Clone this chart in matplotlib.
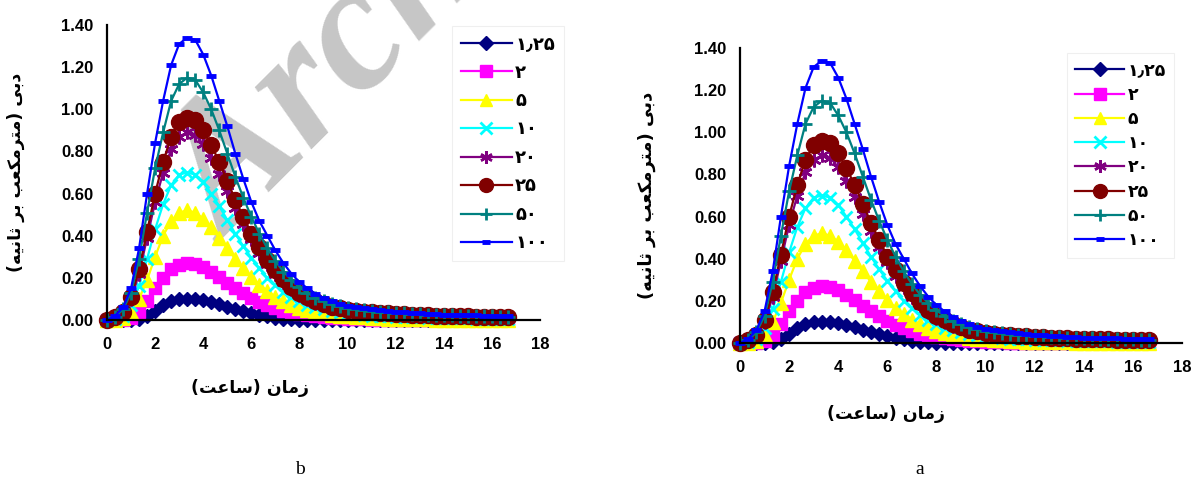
import matplotlib
matplotlib.use("Agg")
import matplotlib.pyplot as plt

# ---------------- data ----------------
TIME_MIN = [0, 20, 40, 60, 80, 100, 120, 140, 160, 180, 200, 220, 240, 260, 280,
            300, 320, 340, 360, 380, 400, 420, 440, 460, 480, 500, 520, 540, 560,
            580, 600, 620, 640, 660, 680, 700, 720, 740, 760, 780, 800, 820, 840,
            860, 880, 900, 920, 940, 960, 980, 1000]

q_125 = [0, 0, 0, 0, 0.005, 0.02, 0.045, 0.07, 0.088, 0.098,
         0.10, 0.099, 0.093, 0.085, 0.075, 0.064, 0.053, 0.042, 0.032, 0.024,
         0.017, 0.011, 0.007, 0.004, 0.002, 0.001, 0, 0, 0, 0,
         0, 0, 0, 0, 0, 0, 0, 0, 0, 0,
         0, 0, 0, 0, 0, 0, 0, 0, 0, 0, 0]
q_2 = [0, 0, 0, 0.01, 0.04, 0.09, 0.15, 0.20, 0.24, 0.262,
       0.27, 0.265, 0.25, 0.228, 0.203, 0.177, 0.151, 0.127, 0.105, 0.086,
       0.07, 0.056, 0.045, 0.036, 0.028, 0.022, 0.017, 0.013, 0.010, 0.008,
       0.006, 0.004, 0.003, 0.002, 0.001, 0.001, 0, 0, 0, 0,
       0, 0, 0, 0, 0, 0, 0, 0, 0, 0, 0]
q_5 = [0, 0, 0.01, 0.04, 0.10, 0.19, 0.30, 0.40, 0.47, 0.51,
       0.52, 0.51, 0.48, 0.44, 0.39, 0.34, 0.29, 0.245, 0.205, 0.168,
       0.137, 0.111, 0.09, 0.073, 0.059, 0.048, 0.039, 0.032, 0.026, 0.021,
       0.017, 0.014, 0.012, 0.010, 0.008, 0.007, 0.006, 0.005, 0.004, 0.003,
       0.003, 0.002, 0.002, 0.001, 0.001, 0.001, 0, 0, 0, 0, 0]
q_10 = [0, 0.005, 0.02, 0.07, 0.16, 0.29, 0.43, 0.55, 0.64, 0.69,
        0.70, 0.69, 0.655, 0.60, 0.54, 0.475, 0.41, 0.35, 0.295, 0.245,
        0.20, 0.164, 0.134, 0.109, 0.089, 0.073, 0.06, 0.05, 0.042, 0.036,
        0.031, 0.027, 0.024, 0.021, 0.019, 0.017, 0.015, 0.014, 0.013, 0.012,
        0.011, 0.010, 0.009, 0.009, 0.008, 0.008, 0.007, 0.007, 0.006, 0.006, 0.005]
q_20 = [0, 0.01, 0.035, 0.10, 0.22, 0.39, 0.56, 0.70, 0.81, 0.87,
        0.89, 0.88, 0.835, 0.77, 0.695, 0.61, 0.53, 0.455, 0.385, 0.32,
        0.265, 0.218, 0.179, 0.147, 0.121, 0.10, 0.083, 0.07, 0.06, 0.052,
        0.046, 0.041, 0.037, 0.034, 0.031, 0.029, 0.027, 0.025, 0.023, 0.021,
        0.020, 0.019, 0.018, 0.017, 0.016, 0.015, 0.014, 0.014, 0.013, 0.013, 0.012]
q_25 = [0, 0.012, 0.04, 0.11, 0.24, 0.42, 0.60, 0.75, 0.87, 0.94,
        0.96, 0.95, 0.90, 0.83, 0.75, 0.66, 0.57, 0.49, 0.41, 0.345,
        0.285, 0.235, 0.193, 0.158, 0.13, 0.107, 0.089, 0.075, 0.064, 0.056,
        0.049, 0.044, 0.040, 0.036, 0.033, 0.031, 0.029, 0.027, 0.025, 0.023,
        0.022, 0.021, 0.020, 0.019, 0.018, 0.017, 0.016, 0.015, 0.015, 0.014, 0.014]
q_50 = [0, 0.015, 0.05, 0.13, 0.29, 0.51, 0.72, 0.89, 1.04, 1.12,
        1.15, 1.14, 1.08, 1.00, 0.90, 0.79, 0.68, 0.58, 0.49, 0.41,
        0.34, 0.28, 0.23, 0.19, 0.155, 0.128, 0.106, 0.089, 0.076, 0.066,
        0.058, 0.052, 0.047, 0.043, 0.039, 0.036, 0.033, 0.031, 0.029, 0.027,
        0.025, 0.024, 0.023, 0.022, 0.021, 0.020, 0.019, 0.018, 0.017, 0.016, 0.016]
q_100 = [0, 0.02, 0.06, 0.15, 0.34, 0.60, 0.84, 1.04, 1.21, 1.31,
         1.34, 1.33, 1.26, 1.16, 1.04, 0.92, 0.79, 0.67, 0.56, 0.47,
         0.40, 0.33, 0.27, 0.22, 0.18, 0.15, 0.125, 0.105, 0.09, 0.078,
         0.068, 0.061, 0.055, 0.05, 0.046, 0.042, 0.039, 0.036, 0.034, 0.032,
         0.030, 0.028, 0.026, 0.025, 0.024, 0.023, 0.022, 0.021, 0.020, 0.019, 0.018]

# return-period labels (Persian digits)
LABELS = ["\u06F1\u066B\u06F2\u06F5", "\u06F2", "\u06F5", "\u06F1\u06F0",
          "\u06F2\u06F0", "\u06F2\u06F5", "\u06F5\u06F0", "\u06F1\u06F0\u06F0"]
SERIES = [q_125, q_2, q_5, q_10, q_20, q_25, q_50, q_100]

X_TICKS = [0, 2, 4, 6, 8, 10, 12, 14, 16, 18]
Y_TICKS = [0.0, 0.2, 0.4, 0.6, 0.8, 1.0, 1.2, 1.4]

# Persian axis titles (presentation forms, visual order)
XLABEL = "(" + "\uFE96\uFECB\uFE8E\uFEB3" + ")" + " " + "\uFEE5\uFE8E\uFEE3\uFEAF"
YLABEL = ("(" + "\uFEEA\uFEF4\uFEE7\uFE8E\uFE9B" + " " + "\uFEAE\uFE91" + " "
          + "\uFE90\uFECC\uFEDC\uFEE3\uFEAE\uFE98\uFEE3" + ")" + " "
          + "\uFEF0\uFE91\uFEA9")

# ---------------- styles ----------------
STYLES = [
    dict(color="#000080", marker="D", ms=7.5),
    dict(color="#FF00FF", marker="s", ms=9),
    dict(color="#FFFF00", marker="^", ms=10.5),
    dict(color="#00FFFF", marker="x", ms=9, mew=2.0),
    dict(color="#800080", marker=(6, 2, 0), ms=10, mew=1.8),
    dict(color="#800000", marker="o", ms=11.5),
    dict(color="#008080", marker="+", ms=10, mew=2.0),
    dict(color="#0000FF", marker="_", ms=7, mew=3.5),
]
LEG_MS = [7, 9, 9, 8, 9, 10, 9, 6]

time_h = [m / 60.0 for m in TIME_MIN]

TICK_FAMILY = ["Liberation Sans Narrow", "Liberation Sans"]
FA_FONT = ["DejaVu Sans"]

fig = plt.figure(figsize=(12, 4.79), dpi=100)

# watermark (behind the plots)
fig.text(0.188, 1 - 245 / 479, "Archive", rotation=45, rotation_mode="anchor",
         ha="left", va="baseline", fontsize=132, color="#c6c6c6",
         family="Liberation Serif", weight="bold", style="italic", zorder=-5)

panels = [
    dict(rect=(107 / 1200, 1 - 320 / 479, 433 / 1200, 295 / 479),
         leg=(443 / 1200, 1 - 17 / 479), lsp=0.58, lfs=13, tag="b", tagx=300 / 1200,
         ylx=-0.19, xly=-0.2, ylfs=12.5),
    dict(rect=(740 / 1200, 1 - 343 / 479, 442 / 1200, 295 / 479),
         leg=(1058 / 1200, 1 - 44 / 479), lsp=0.36, lfs=12.5, tag="a", tagx=920 / 1200,
         ylx=-0.19, xly=-0.21, ylfs=13),
]

for p in panels:
    ax = fig.add_axes(p["rect"])
    ax.set_facecolor("none")
    for vals, lab, st in zip(SERIES, LABELS, STYLES):
        ax.plot(time_h, vals, color=st["color"], lw=1.6, marker=st["marker"],
                ms=st["ms"], mew=st.get("mew", 1.0), mfc=st["color"], mec=st["color"],
                label=lab, clip_on=False)
    ax.set_xlim(0, 18)
    ax.set_ylim(0, 1.4)
    ax.set_xticks(X_TICKS)
    ax.set_yticks(Y_TICKS)
    ax.set_yticklabels(["%.2f" % v for v in Y_TICKS])
    for lbl in ax.get_xticklabels() + ax.get_yticklabels():
        lbl.set_fontfamily(TICK_FAMILY)
        lbl.set_fontweight("bold")
        lbl.set_fontsize(12)
    ax.tick_params(axis="x", length=0, pad=12)
    ax.tick_params(axis="y", length=0, pad=10)
    for s in ("top", "right"):
        ax.spines[s].set_visible(False)
    for s in ("left", "bottom"):
        ax.spines[s].set_linewidth(1.6)
        ax.spines[s].set_color("black")
    ax.set_xlabel(XLABEL, family=FA_FONT, weight="bold", fontsize=12.5)
    ax.xaxis.set_label_coords(0.33, p["xly"])
    ax.set_ylabel(YLABEL, family=FA_FONT, weight="bold", fontsize=p["ylfs"])
    ax.yaxis.set_label_coords(p["ylx"], 0.5)

    leg = ax.legend(loc="upper left", bbox_to_anchor=p["leg"], bbox_transform=fig.transFigure,
                    frameon=True, fancybox=False, handlelength=2.8, handletextpad=0.2,
                    labelspacing=p["lsp"], borderpad=0.5,
                    prop=dict(family=FA_FONT, weight="bold", size=p["lfs"]))
    for h, ms in zip(leg.legend_handles, LEG_MS):
        h.set_markersize(ms)
    leg.get_frame().set_edgecolor("#ececec")
    leg.get_frame().set_linewidth(0.8)

    fig.text(p["tagx"], 1 - 470 / 479, p["tag"], ha="center", va="center",
             family="Liberation Serif", fontsize=14)

fig.savefig("out.png", dpi=100)
